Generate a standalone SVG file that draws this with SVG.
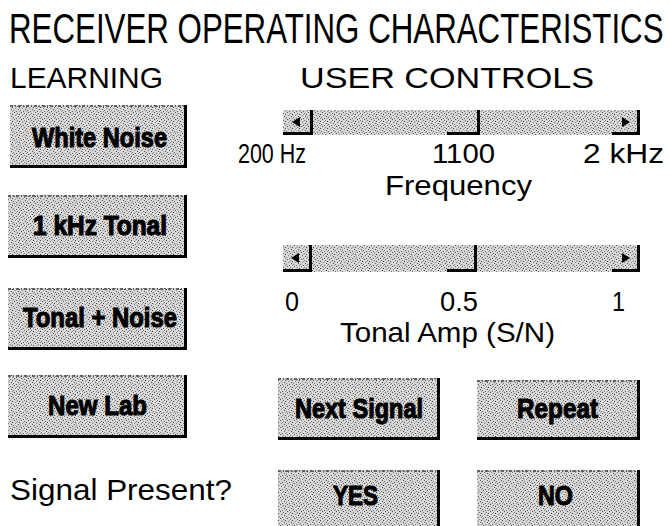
<svg xmlns="http://www.w3.org/2000/svg" width="670" height="526" viewBox="0 0 670 526">
<style>
.t{font-family:"Liberation Sans",Arial,sans-serif;fill:#000}
.b{font-family:"Liberation Sans",Arial,sans-serif;font-weight:bold;fill:#000;stroke:#000;stroke-width:1.1px;font-size:28px}
.btn{fill:url(#stip)}
.edge{fill:#000}
.top{stroke:#444;stroke-width:1.5;stroke-dasharray:3 2 1 2}
</style>
<defs>
<pattern id="stip" width="7" height="7" patternUnits="userSpaceOnUse">
<rect width="7" height="7" fill="#d6d6d6"/>
<rect x="0" y="0" width="1" height="1" fill="#555"/>
<rect x="3" y="1" width="1" height="1" fill="#777"/>
<rect x="5" y="2" width="1" height="1" fill="#444"/>
<rect x="1" y="3" width="1" height="1" fill="#888"/>
<rect x="4" y="4" width="1" height="1" fill="#555"/>
<rect x="6" y="5" width="1" height="1" fill="#777"/>
<rect x="2" y="6" width="1" height="1" fill="#666"/>
<rect x="5" y="6" width="1" height="1" fill="#999"/>
<rect x="2" y="2" width="1" height="1" fill="#aaa"/>
</pattern>
</defs>
<rect width="670" height="526" fill="#fff"/>

<g id="headings">
<text class="t" transform="translate(9,43) scale(0.745,1)" x="0" y="0" font-size="42">RECEIVER OPERATING CHARACTERISTICS</text>
<text class="t" x="10" y="88" font-size="30" textLength="153" lengthAdjust="spacingAndGlyphs">LEARNING</text>
<text class="t" x="300" y="88" font-size="30" textLength="294" lengthAdjust="spacingAndGlyphs">USER CONTROLS</text>
</g>

<g id="btn-white-noise">
<rect class="btn" x="10" y="105" width="177" height="63"/>
<line class="top" x1="10" y1="106" x2="184" y2="106"/>
<rect class="edge" x="10" y="165" width="177" height="3"/><rect class="edge" x="184" y="105" width="3" height="63"/>
<text class="b" x="32" y="147" textLength="135" lengthAdjust="spacingAndGlyphs">White Noise</text>
</g>
<g id="btn-1khz-tonal">
<rect class="btn" x="8" y="195" width="179" height="63"/>
<line class="top" x1="8" y1="196" x2="184" y2="196"/>
<rect class="edge" x="8" y="255" width="179" height="3"/><rect class="edge" x="184" y="195" width="3" height="63"/>
<text class="b" x="33" y="235" textLength="134" lengthAdjust="spacingAndGlyphs">1 kHz Tonal</text>
</g>
<g id="btn-tonal-noise">
<rect class="btn" x="8" y="288" width="179" height="62"/>
<line class="top" x1="8" y1="289" x2="184" y2="289"/>
<rect class="edge" x="8" y="347" width="179" height="3"/><rect class="edge" x="184" y="288" width="3" height="62"/>
<text class="b" x="23" y="327" textLength="154" lengthAdjust="spacingAndGlyphs">Tonal + Noise</text>
</g>
<g id="btn-new-lab">
<rect class="btn" x="8" y="375" width="179" height="63"/>
<line class="top" x1="8" y1="376" x2="184" y2="376"/>
<rect class="edge" x="8" y="435" width="179" height="3"/><rect class="edge" x="184" y="375" width="3" height="63"/>
<text class="b" x="48" y="415" textLength="99" lengthAdjust="spacingAndGlyphs">New Lab</text>
</g>

<g id="scroll-frequency">
<rect class="btn" x="283" y="110" width="357" height="25"/>
<rect class="edge" x="283" y="132" width="30" height="3"/><rect class="edge" x="310" y="110" width="3" height="25"/>
<polygon points="292,122 300,117 300,127" fill="#000"/>
<rect class="edge" x="447" y="132" width="33" height="3"/><rect class="edge" x="477" y="110" width="3" height="25"/>
<rect class="edge" x="612" y="132" width="28" height="3"/><rect class="edge" x="637" y="110" width="3" height="25"/>
<polygon points="630,122 622,117 622,127" fill="#000"/>
<text class="t" x="238" y="163" font-size="28" textLength="68" lengthAdjust="spacingAndGlyphs">200 Hz</text>
<text class="t" x="432" y="163" font-size="28" textLength="63" lengthAdjust="spacingAndGlyphs">1100</text>
<text class="t" x="583" y="163" font-size="28" textLength="81" lengthAdjust="spacingAndGlyphs">2 kHz</text>
<text class="t" x="385" y="195" font-size="28" textLength="147" lengthAdjust="spacingAndGlyphs">Frequency</text>
</g>

<g id="scroll-tonal-amp">
<rect class="btn" x="283" y="245" width="357" height="27"/>
<rect class="edge" x="283" y="269" width="29" height="3"/><rect class="edge" x="309" y="245" width="3" height="27"/>
<polygon points="291,258 299,253 299,263" fill="#000"/>
<rect class="edge" x="447" y="269" width="30" height="3"/><rect class="edge" x="474" y="245" width="3" height="27"/>
<rect class="edge" x="612" y="269" width="28" height="3"/><rect class="edge" x="637" y="245" width="3" height="27"/>
<polygon points="630,258 622,253 622,263" fill="#000"/>
<text class="t" x="285" y="311" font-size="27" textLength="14" lengthAdjust="spacingAndGlyphs">0</text>
<text class="t" x="440" y="311" font-size="27" textLength="38" lengthAdjust="spacingAndGlyphs">0.5</text>
<text class="t" x="612" y="311" font-size="27" textLength="13" lengthAdjust="spacingAndGlyphs">1</text>
<text class="t" x="340" y="342" font-size="28" textLength="215" lengthAdjust="spacingAndGlyphs">Tonal Amp (S/N)</text>
</g>

<g id="btn-next-signal">
<rect class="btn" x="278" y="378" width="162" height="62"/>
<line class="top" x1="278" y1="379" x2="437" y2="379"/>
<rect class="edge" x="278" y="437" width="162" height="3"/><rect class="edge" x="437" y="378" width="3" height="62"/>
<text class="b" x="295" y="418" textLength="128" lengthAdjust="spacingAndGlyphs">Next Signal</text>
</g>
<g id="btn-repeat">
<rect class="btn" x="477" y="380" width="163" height="60"/>
<line class="top" x1="477" y1="381" x2="637" y2="381"/>
<rect class="edge" x="477" y="437" width="163" height="3"/><rect class="edge" x="637" y="380" width="3" height="60"/>
<text class="b" x="517" y="418" textLength="81" lengthAdjust="spacingAndGlyphs">Repeat</text>
</g>

<g id="signal-present">
<text class="t" x="10" y="500" font-size="29" textLength="222" lengthAdjust="spacingAndGlyphs">Signal Present?</text>
</g>
<g id="btn-yes">
<rect class="btn" x="278" y="470" width="162" height="60"/>
<line class="top" x1="278" y1="471" x2="437" y2="471"/>
<rect class="edge" x="437" y="470" width="3" height="60"/>
<text class="b" x="333" y="505" textLength="45" lengthAdjust="spacingAndGlyphs">YES</text>
</g>
<g id="btn-no">
<rect class="btn" x="477" y="470" width="163" height="60"/>
<line class="top" x1="477" y1="471" x2="637" y2="471"/>
<rect class="edge" x="637" y="470" width="3" height="60"/>
<text class="b" x="538" y="505" textLength="35" lengthAdjust="spacingAndGlyphs">NO</text>
</g>
</svg>
